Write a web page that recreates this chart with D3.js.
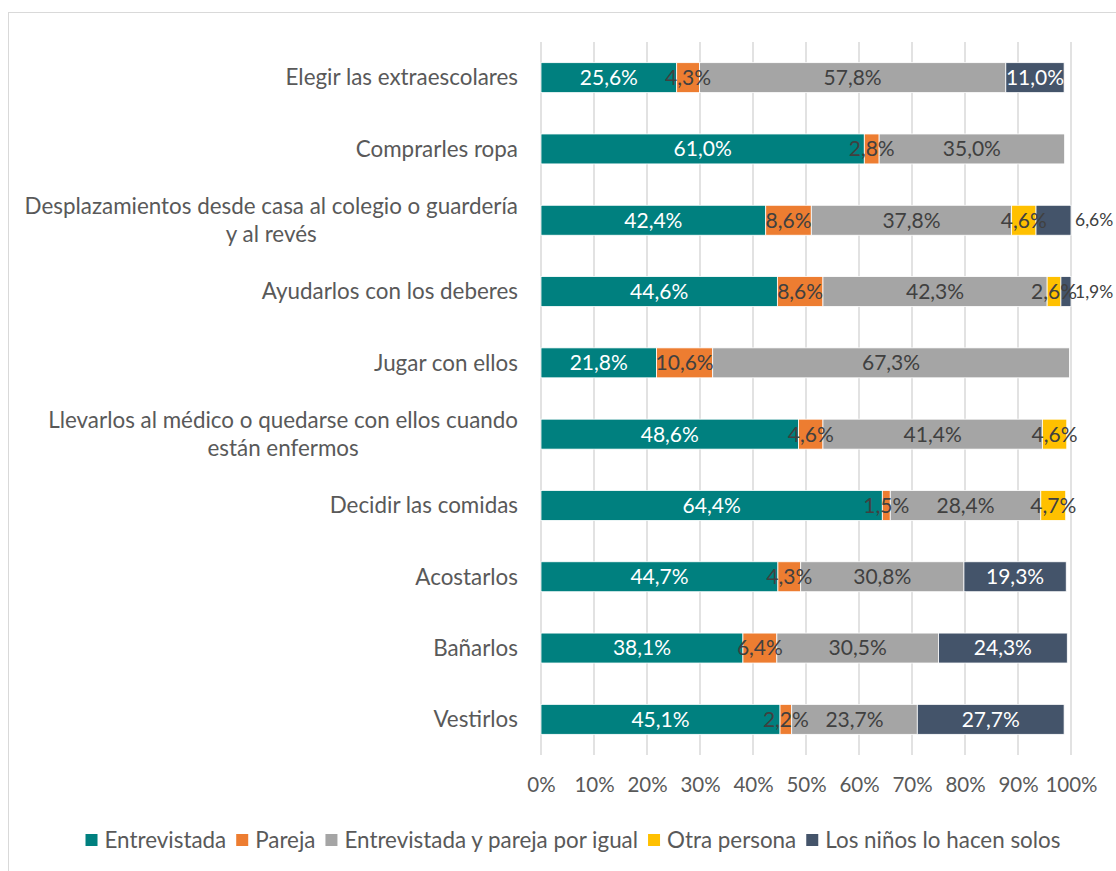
<!DOCTYPE html>
<html>
<head>
<meta charset="utf-8">
<script src="https://cdn.jsdelivr.net/npm/d3@7"></script>
<style>
  html, body { margin: 0; padding: 0; background: #fff; }
  svg { display: block; font-family: Lato, "Open Sans", sans-serif; }
</style>
</head>
<body>
<svg id="chart" width="1116" height="871"></svg>
<script>
// Task categories, top to bottom; "\n" splits a label into two lines
const categories = [
  "Elegir las extraescolares",
  "Comprarles ropa",
  "Desplazamientos desde casa al colegio o guardería\ny al revés",
  "Ayudarlos con los deberes",
  "Jugar con ellos",
  "Llevarlos al médico o quedarse con ellos cuando\nestán enfermos",
  "Decidir las comidas",
  "Acostarlos",
  "Bañarlos",
  "Vestirlos"
];

const seriesNames = [
  "Entrevistada",
  "Pareja",
  "Entrevistada y pareja por igual",
  "Otra persona",
  "Los niños lo hacen solos"
];

// Percent values per series, one entry per category (0 = no segment)
const entrevistada = [25.6, 61.0, 42.4, 44.6, 21.8, 48.6, 64.4, 44.7, 38.1, 45.1];
const pareja       = [4.3, 2.8, 8.6, 8.6, 10.6, 4.6, 1.5, 4.3, 6.4, 2.2];
const porIgual     = [57.8, 35.0, 37.8, 42.3, 67.3, 41.4, 28.4, 30.8, 30.5, 23.7];
const otraPersona  = [0, 0, 4.6, 2.6, 0, 4.6, 4.7, 0, 0, 0];
const solos        = [11.0, 0, 6.6, 1.9, 0, 0, 0, 19.3, 24.3, 27.7];

const tickValues = [0, 10, 20, 30, 40, 50, 60, 70, 80, 90, 100];

const colors = ["#00807F", "#ED7D31", "#A5A5A5", "#FFC000", "#44546A"];
const labelColors = ["#FFFFFF", "#404040", "#404040", "#404040", "#FFFFFF"];

const seriesValues = [entrevistada, pareja, porIgual, otraPersona, solos];
const rows = categories.map((c, i) => {
  const r = { category: c };
  seriesNames.forEach((s, j) => { r[s] = seriesValues[j][i]; });
  return r;
});

const svg = d3.select("#chart");
const textColor = "#595959";
const textSize = 22.4;

// Outer chart frame
svg.append("rect")
  .attr("x", 8.5).attr("y", 12.5)
  .attr("width", 1120).attr("height", 870)
  .attr("fill", "none").attr("stroke", "#d9d9d9").attr("stroke-width", 1);

const plot = { left: 541, right: 1071, top: 42, bottom: 755 };

const x = d3.scaleLinear().domain([0, 100]).range([plot.left, plot.right]);
const y = d3.scaleBand().domain(categories).range([plot.top, plot.bottom]).paddingInner(0.58).paddingOuter(0.29);

// Vertical gridlines
svg.append("g")
  .selectAll("line")
  .data(tickValues)
  .join("line")
  .attr("x1", d => x(d)).attr("x2", d => x(d))
  .attr("y1", plot.top).attr("y2", plot.bottom)
  .attr("stroke", "#d9d9d9").attr("stroke-width", 1.5);

// Bottom axis tick labels
const xAxis = d3.axisBottom(x).tickValues(tickValues).tickFormat(d => d + "%").tickSize(0).tickPadding(0);
const axisG = svg.append("g").attr("transform", `translate(0,${plot.bottom + 22})`).call(xAxis);
axisG.select(".domain").remove();
axisG.selectAll("text")
  .attr("font-family", "Lato, sans-serif")
  .attr("font-size", 20.5)
  .attr("fill", textColor);

// Category labels (multi-line ones centred on the widest line)
const catG = svg.append("g");
categories.forEach(c => {
  const lines = c.split("\n");
  const cy = y(c) + y.bandwidth() / 2;
  const lh = 28;
  const t = catG.append("text")
    .attr("font-size", textSize)
    .attr("fill", textColor);
  lines.forEach((ln, k) => {
    t.append("tspan")
      .attr("y", cy + (k - (lines.length - 1) / 2) * lh)
      .attr("dy", "0.35em")
      .text(ln);
  });
  if (lines.length === 1) {
    t.attr("text-anchor", "end").selectAll("tspan").attr("x", 518);
  } else {
    const w = d3.max(t.selectAll("tspan").nodes(), n => n.getComputedTextLength());
    t.attr("text-anchor", "middle").selectAll("tspan").attr("x", 518 - w / 2);
  }
});

// Stacked bars
const stacked = d3.stack().keys(seriesNames)(rows);
const barG = svg.append("g");
stacked.forEach((layer, j) => {
  barG.append("g")
    .selectAll("rect")
    .data(layer.filter(d => d[1] - d[0] > 0))
    .join("rect")
    .attr("x", d => x(d[0]))
    .attr("y", d => y(d.data.category))
    .attr("width", d => x(d[1]) - x(d[0]))
    .attr("height", y.bandwidth())
    .attr("fill", colors[j])
    .attr("stroke", "#ffffff")
    .attr("stroke-width", 0.8);
});

// Value labels; thin end segments get their label just past the bar end
const fmt = v => v.toFixed(1).replace(".", ",") + "%";
const labG = svg.append("g");
stacked.forEach((layer, j) => {
  layer.filter(d => d[1] - d[0] > 0).forEach(d => {
    const v = d[1] - d[0];
    const w = x(d[1]) - x(d[0]);
    const cy = y(d.data.category) + y.bandwidth() / 2;
    const outside = j === seriesNames.length - 1 && w < 42;
    labG.append("text")
      .attr("x", outside ? x(d[1]) + 4 : (x(d[0]) + x(d[1])) / 2)
      .attr("y", cy)
      .attr("dy", "0.35em")
      .attr("text-anchor", outside ? "start" : "middle")
      .attr("font-size", outside ? 17.5 : 21)
      .attr("fill", outside ? "#404040" : labelColors[j])
      .text(fmt(v));
  });
});

// Legend
const legG = svg.append("g");
let lx = 0;
seriesNames.forEach((s, j) => {
  const g = legG.append("g").attr("transform", `translate(${lx},0)`);
  g.append("rect").attr("x", 0).attr("y", -6).attr("width", 12).attr("height", 12).attr("fill", colors[j]);
  const t = g.append("text").attr("x", 19).attr("y", 0).attr("dy", "0.35em")
    .attr("font-size", textSize).attr("fill", textColor).text(s);
  lx += 19 + t.node().getComputedTextLength() + 10;
});
const legW = lx - 10;
legG.attr("transform", `translate(${573 - legW / 2},840)`);
</script>
</body>
</html>
